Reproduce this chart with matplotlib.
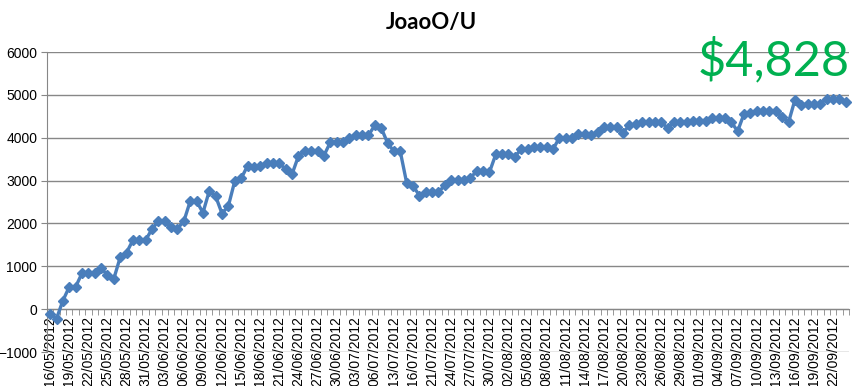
import matplotlib
matplotlib.use("Agg")
import matplotlib.pyplot as plt
import numpy as np

# running total per category (one point per date on a category axis)
values = [-110, -220, 200, 520, 520, 840, 840, 840, 950, 800, 710, 1210, 1320,
          1610, 1610, 1610, 1870, 2050, 2050, 1910, 1880, 2050, 2520, 2520, 2250,
          2760, 2630, 2230, 2410, 2990, 3050, 3340, 3310, 3340, 3400, 3400, 3410,
          3260, 3150, 3570, 3700, 3700, 3700, 3580, 3890, 3890, 3890, 4000, 4060, 4060,
          4055, 4290, 4230, 3880, 3680, 3680, 2950, 2880, 2650, 2730, 2730, 2730,
          2890, 3020, 3020, 3020, 3060, 3220, 3220, 3190, 3610, 3610, 3610, 3560, 3730,
          3730, 3790, 3790, 3790, 3730, 4000, 4000, 4000, 4080, 4080, 4060, 4130,
          4250, 4250, 4250, 4120, 4290, 4310, 4370, 4370, 4370, 4370, 4220, 4370, 4370,
          4360, 4400, 4400, 4400, 4460, 4460, 4460, 4370, 4150, 4555, 4580, 4630,
          4630, 4630, 4620, 4480, 4360, 4880, 4760, 4790, 4790, 4790, 4910, 4910,
          4910, 4828]

# labels shown on every third category
tick_labels = ['16/05/2012', '19/05/2012', '22/05/2012', '25/05/2012', '28/05/2012',
               '31/05/2012', '03/06/2012', '06/06/2012', '09/06/2012', '12/06/2012',
               '15/06/2012', '18/06/2012', '21/06/2012', '24/06/2012', '27/06/2012',
               '30/06/2012', '03/07/2012', '06/07/2012', '13/07/2012', '16/07/2012',
               '21/07/2012', '24/07/2012', '27/07/2012', '30/07/2012', '02/08/2012',
               '05/08/2012', '08/08/2012', '11/08/2012', '14/08/2012', '17/08/2012',
               '20/08/2012', '23/08/2012', '26/08/2012', '29/08/2012', '01/09/2012',
               '04/09/2012', '07/09/2012', '10/09/2012', '13/09/2012', '16/09/2012',
               '19/09/2012', '22/09/2012']
label_step = 3
title = 'JoaoO/U'
total_text = '$4,828'

blue = '#4A7EBB'
grey = '#878787'

fig = plt.figure(figsize=(8.63, 3.86), dpi=100)
ax = fig.add_axes([47 / 863, 1 - 352 / 386, (849 - 47) / 863, 300 / 386])

x = np.arange(len(values))
ax.plot(x, values, color=blue, lw=2.4, marker='D', ms=5.3, mfc=blue, mec=blue,
        zorder=3, clip_on=False)

ax.set_xlim(-0.5, len(values) - 0.5)
ax.set_ylim(-1000, 6000)
ax.set_yticks(np.arange(-1000, 6001, 1000))
ax.yaxis.grid(True, color=grey, lw=1)
ax.set_axisbelow(True)

ax.spines['top'].set_visible(False)
ax.spines['right'].set_visible(False)
ax.spines['bottom'].set_position(('data', 0))
ax.spines['bottom'].set_color(grey)
ax.spines['left'].set_color(grey)

ax.set_xticks(x[::label_step])
ax.set_xticklabels(tick_labels, rotation=90, family='Liberation Sans', fontsize=10)
ax.set_xticks(np.arange(-0.5, len(values), 1), minor=True)
ax.tick_params(axis='x', which='major', length=0, pad=5)
ax.tick_params(axis='x', which='minor', length=4, color=grey, direction='out')
ax.tick_params(axis='y', length=4, color=grey, pad=3)
for lab in ax.get_yticklabels():
    lab.set_family('Liberation Sans')
    lab.set_fontsize(10)

fig.text(0.5, 1 - 22 / 386, title, ha='center', va='center',
         fontsize=16, fontweight='bold', family='Lato')
fig.text(850 / 863, 1 - 75 / 386, total_text, ha='right', va='baseline',
         fontsize=35, color='#00B050', family='Lato')

fig.savefig('out.png', dpi=100)
